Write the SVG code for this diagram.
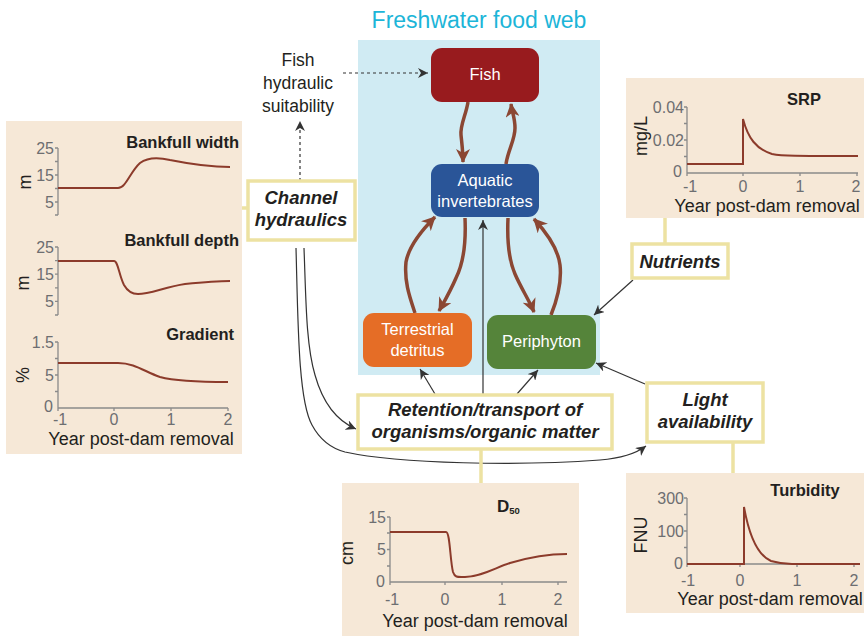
<svg xmlns="http://www.w3.org/2000/svg" width="864" height="636" viewBox="0 0 864 636">
<defs>
<style>
text{font-family:"Liberation Sans",Arial,sans-serif}
.panel{fill:#f6e8d7}
.ybox{fill:#fff;stroke:#ede2a2;stroke-width:3.5}
.ylink{stroke:#ede2a2;stroke-width:3.5;fill:none}
.lab{font-size:18.5px;font-weight:bold;font-style:italic;fill:#231f20;text-anchor:middle}
.ttl{font-size:16.5px;font-weight:bold;fill:#231f20}
.tick{font-size:16px;fill:#6d6e71}
.xl{font-size:18px;fill:#231f20;text-anchor:middle}
.ax{stroke:#8a8a8a;stroke-width:1.3;fill:none}
.crv{stroke:#8c3b2b;stroke-width:2;fill:none}
.node{font-size:16.5px;fill:#fff;text-anchor:middle}
.web{stroke:#8b4733;stroke-width:3.5;fill:none;marker-end:url(#bh)}
.thin{stroke:#333;stroke-width:1.2;fill:none;marker-end:url(#th)}
.dash{stroke:#333;stroke-width:1.2;fill:none;stroke-dasharray:3 3;marker-end:url(#th)}
</style>
<marker id="bh" markerUnits="userSpaceOnUse" markerWidth="16" markerHeight="14" refX="13" refY="7" orient="auto">
<path d="M0,0 L14,7 L0,14 L4,7 z" fill="#8b4733"/>
</marker>
<marker id="th" markerUnits="userSpaceOnUse" markerWidth="12" markerHeight="10" refX="10" refY="5" orient="auto">
<path d="M0,0 L10,5 L0,10 L3,5 z" fill="#333"/>
</marker>
</defs>
<rect width="864" height="636" fill="#fff"/>

<g id="food-web-panel">
<rect x="358" y="40" width="242" height="335" fill="#d0ebf3"/>
<text x="479" y="28" font-size="23" fill="#1cb5d8" text-anchor="middle">Freshwater food web</text>
</g>

<g id="connectors">
<path class="web" d="M468,102 C466,115 460,125 461,135 C462,145 463,152 463,162"/>
<path class="web" d="M506,164 C508,150 515,140 515,128 C515,118 512,112 511,104"/>
<path class="web" d="M465,218 C466,240 464,262 456,278 C450,292 444,302 439,311"/>
<path class="web" d="M415,313 C410,298 404,282 406,262 C409,245 422,230 435,217"/>
<path class="web" d="M508,218 C507,240 508,258 515,274 C521,288 529,300 534,312"/>
<path class="web" d="M551,315 C557,300 562,283 560,265 C558,248 546,232 534,219"/>
<path class="thin" d="M483,397 V220"/>
<path class="thin" d="M435,394 L420,369"/>
<path class="thin" d="M517,394 L538,370"/>
<path class="thin" d="M633,280 L594,315"/>
<path class="thin" d="M645,384 L596,363"/>
<path class="thin" d="M304,248 C306,300 306,345 315,375 C322,400 335,420 356,429"/>
<path class="thin" d="M296,248 C298,320 298,400 312,425 C320,440 330,448 345,452 C400,464 520,466 600,460 C625,458 638,452 646,446"/>
<path class="dash" d="M300,181 V121"/>
<path class="dash" d="M343,73 H428"/>
<path class="ylink" d="M241,208 H248"/>
<path class="ylink" d="M665,218 V244"/>
<path class="ylink" d="M481,449 V483"/>
<path class="ylink" d="M733,442 V473"/>
</g>

<g id="fish-hydraulic-suitability">
<text x="298" y="66" font-size="17.5" fill="#231f20" text-anchor="middle">Fish</text>
<text x="298" y="89" font-size="17.5" fill="#231f20" text-anchor="middle">hydraulic</text>
<text x="298" y="112" font-size="17.5" fill="#231f20" text-anchor="middle">suitability</text>
</g>

<g id="fish">
<rect x="431" y="48" width="108" height="54" rx="11" fill="#981b1e"/>
<text class="node" x="485" y="80" font-size="15">Fish</text>
</g>
<g id="aquatic-invertebrates">
<rect x="431" y="164" width="108" height="53" rx="11" fill="#2a5598"/>
<text class="node" x="485" y="186">Aquatic</text>
<text class="node" x="485" y="207">invertebrates</text>
</g>
<g id="terrestrial-detritus">
<rect x="363" y="313" width="109" height="54" rx="11" fill="#e56d26"/>
<text class="node" x="417.5" y="335">Terrestrial</text>
<text class="node" x="417.5" y="356">detritus</text>
</g>
<g id="periphyton">
<rect x="487" y="315" width="109" height="54" rx="11" fill="#55843a"/>
<text class="node" x="541.5" y="347">Periphyton</text>
</g>

<g id="channel-hydraulics">
<rect class="ybox" x="248" y="181" width="107" height="59"/>
<text class="lab" x="301" y="204">Channel</text>
<text class="lab" x="301" y="226">hydraulics</text>
</g>
<g id="nutrients">
<rect class="ybox" x="632" y="244" width="96" height="34"/>
<text class="lab" x="680" y="268">Nutrients</text>
</g>
<g id="retention-transport">
<rect class="ybox" x="358" y="395" width="254" height="54"/>
<text class="lab" x="485" y="416">Retention/transport of</text>
<text class="lab" x="485" y="438">organisms/organic matter</text>
</g>
<g id="light-availability">
<rect class="ybox" x="647" y="383" width="116" height="59"/>
<text class="lab" x="705" y="406">Light</text>
<text class="lab" x="705" y="428">availability</text>
</g>

<g id="channel-panel">
<rect class="panel" x="6" y="121" width="236" height="333"/>
<text class="ttl" x="239" y="148" text-anchor="end">Bankfull width</text>
<path class="ax" d="M58,148 V215 M55,148 H58 M55,161.5 H58 M55,175 H58 M55,188.5 H58 M55,202 H58 M55,215 H58"/>
<text class="tick" x="54" y="154" text-anchor="end">25</text>
<text class="tick" x="54" y="181" text-anchor="end">15</text>
<text class="tick" x="54" y="208" text-anchor="end">5</text>
<text transform="translate(31,182) rotate(-90)" font-size="18" fill="#231f20" text-anchor="middle">m</text>
<path class="crv" d="M58,188 H118 C126,188 130,172 140,163 C148,157 158,157 170,160 C190,164 210,167 230,167"/>

<text class="ttl" x="239" y="246" text-anchor="end">Bankfull depth</text>
<path class="ax" d="M58,247 V315 M55,247 H58 M55,260.6 H58 M55,274.2 H58 M55,287.8 H58 M55,301.4 H58 M55,315 H58"/>
<text class="tick" x="54" y="253" text-anchor="end">25</text>
<text class="tick" x="54" y="280" text-anchor="end">15</text>
<text class="tick" x="54" y="307" text-anchor="end">5</text>
<text transform="translate(29,283) rotate(-90)" font-size="18" fill="#231f20" text-anchor="middle">m</text>
<path class="crv" d="M58,261 H114 C118,261 119,275 124,285 C128,292 133,294 138,294 C150,294 165,287 185,284 C205,282 220,281 230,281"/>

<text class="ttl" x="234" y="340" text-anchor="end">Gradient</text>
<path class="ax" d="M58,342 V408 H228 M55,342 H58 M55,358.5 H58 M55,375 H58 M55,391.5 H58 M58,408 V411 M114,408 V411 M171,408 V411 M228,408 V411"/>
<text class="tick" x="54" y="348" text-anchor="end">1.5</text>
<text class="tick" x="54" y="381" text-anchor="end">5</text>
<text class="tick" x="53" y="412" text-anchor="end">0</text>
<text class="tick" x="60" y="425" text-anchor="middle">-1</text>
<text class="tick" x="114" y="425" text-anchor="middle">0</text>
<text class="tick" x="171" y="425" text-anchor="middle">1</text>
<text class="tick" x="228" y="425" text-anchor="middle">2</text>
<text transform="translate(29,375) rotate(-90)" font-size="18" fill="#231f20" text-anchor="middle">%</text>
<path class="crv" d="M58,363 H118 C135,363 145,372 160,377 C175,381 195,382 228,382"/>
<text class="xl" x="141" y="445">Year post-dam removal</text>
</g>

<g id="srp-panel">
<rect class="panel" x="626" y="78" width="238" height="140"/>
<text class="ttl" x="804" y="105" text-anchor="middle">SRP</text>
<path class="ax" d="M687,107 V173 H858 M684,107 H687 M684,123.5 H687 M684,140 H687 M684,156.5 H687 M687,173 V176 M743,173 V176 M800,173 V176 M857,173 V176"/>
<text class="tick" x="684" y="113" text-anchor="end">0.04</text>
<text class="tick" x="684" y="146" text-anchor="end">0.02</text>
<text class="tick" x="682" y="177" text-anchor="end">0</text>
<text class="tick" x="690" y="192" text-anchor="middle">-1</text>
<text class="tick" x="743" y="192" text-anchor="middle">0</text>
<text class="tick" x="800" y="192" text-anchor="middle">1</text>
<text class="tick" x="856" y="192" text-anchor="middle">2</text>
<text transform="translate(647,136) rotate(-90)" font-size="18" fill="#231f20" text-anchor="middle">mg/L</text>
<path class="crv" d="M687,164 H743 V119 C748,138 756,149 772,154 C782,156 795,156 858,156"/>
<text class="xl" x="767" y="212">Year post-dam removal</text>
</g>

<g id="d50-panel">
<rect class="panel" x="342" y="483" width="237" height="153"/>
<text x="497" y="512" font-size="17" font-weight="bold" fill="#231f20">D<tspan font-size="9.5" dy="2">50</tspan></text>
<path class="ax" d="M390,517 V582 H567 M387,517 H390 M387,533 H390 M387,549.5 H390 M387,566 H390 M390,582 V585 M445,582 V585 M502,582 V585 M558,582 V585"/>
<text class="tick" x="386" y="523" text-anchor="end">15</text>
<text class="tick" x="386" y="555" text-anchor="end">5</text>
<text class="tick" x="385" y="587" text-anchor="end">0</text>
<text class="tick" x="392" y="605" text-anchor="middle">-1</text>
<text class="tick" x="445" y="605" text-anchor="middle">0</text>
<text class="tick" x="502" y="605" text-anchor="middle">1</text>
<text class="tick" x="558" y="605" text-anchor="middle">2</text>
<text transform="translate(353,553) rotate(-90)" font-size="18" fill="#231f20" text-anchor="middle">cm</text>
<path class="crv" d="M390,532 H446 C450,532 450,560 453,572 C455,578 458,577 465,577 C480,577 495,568 510,563 C530,557 550,554 567,554"/>
<text class="xl" x="475" y="627">Year post-dam removal</text>
</g>

<g id="turbidity-panel">
<rect class="panel" x="626" y="473" width="238" height="140"/>
<text class="ttl" x="805" y="496" text-anchor="middle">Turbidity</text>
<path class="ax" d="M687,498 V564 H860 M684,498 H687 M684,514.5 H687 M684,531 H687 M684,547.5 H687 M687,564 V567 M740,564 V567 M797,564 V567 M854,564 V567"/>
<text class="tick" x="684" y="504" text-anchor="end">300</text>
<text class="tick" x="684" y="537" text-anchor="end">100</text>
<text class="tick" x="683" y="569" text-anchor="end">0</text>
<text class="tick" x="688" y="586" text-anchor="middle">-1</text>
<text class="tick" x="740" y="586" text-anchor="middle">0</text>
<text class="tick" x="797" y="586" text-anchor="middle">1</text>
<text class="tick" x="854" y="586" text-anchor="middle">2</text>
<text transform="translate(647,535) rotate(-90)" font-size="18" fill="#231f20" text-anchor="middle">FNU</text>
<path class="crv" d="M687,564 H744 V507 C749,535 757,555 771,561 C778,563 784,564 792,564 H860"/>
<text class="xl" x="770" y="605">Year post-dam removal</text>
</g>
</svg>
